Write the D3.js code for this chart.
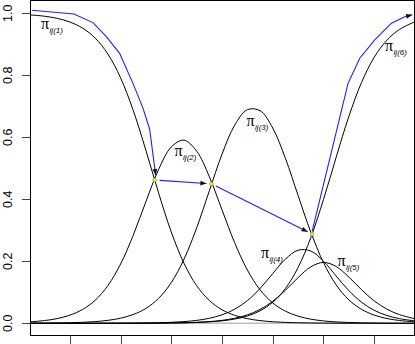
<!DOCTYPE html>
<html>
<head>
<meta charset="utf-8">
<script src="https://cdn.jsdelivr.net/npm/d3@7"></script>
<style>
  html, body { margin: 0; padding: 0; background: #fff; }
  svg { display: block; }
</style>
</head>
<body>
<div id="chart"></div>
<script>
/** Data. */
const XS = [-3.8, -3.5, -3.25, -3, -2.75, -2.5, -2.25, -2, -1.75, -1.5, -1.25, -1, -0.75, -0.5, -0.25,
    0, 0.25, 0.5, 0.75, 1, 1.25, 1.5, 1.75, 2, 2.25, 2.5, 2.75, 3, 3.25, 3.5, 3.8];

const PI1 = [0.9951, 0.9906, 0.9837, 0.9720, 0.9523, 0.9200, 0.8687, 0.7920, 0.6867, 0.5577, 0.4206, 0.2946, 0.1938, 0.1215, 0.0737,
    0.0438, 0.0257, 0.0150, 0.0087, 0.0050, 0.0029, 0.0017, 0.0010, 0.0006, 0.0003, 0.0002, 0.0001, 0.0001, 0, 0, 0];
const PI2 = [0.0046, 0.0088, 0.0152, 0.0261, 0.0444, 0.0743, 0.1215, 0.1910, 0.2841, 0.3925, 0.4961, 0.5689, 0.5908, 0.5555, 0.4731,
    0.3660, 0.2598, 0.1720, 0.1082, 0.0658, 0.0391, 0.0230, 0.0134, 0.0077, 0.0045, 0.0026, 0.0015, 0.0008, 0.0005, 0.0003, 0.0002];
const PI3 = [0.0003, 0.0006, 0.0011, 0.0018, 0.0032, 0.0055, 0.0095, 0.0164, 0.0283, 0.0480, 0.0804, 0.1313, 0.2065, 0.3077, 0.4270,
    0.5454, 0.6392, 0.6891, 0.6859, 0.6300, 0.5321, 0.4122, 0.2943, 0.1961, 0.1240, 0.0757, 0.0451, 0.0265, 0.0154, 0.0090, 0.0046];
const PI4 = [0, 0, 0, 0, 0.0001, 0.0001, 0.0002, 0.0004, 0.0006, 0.0011, 0.0018, 0.0032, 0.0055, 0.0094, 0.0162,
    0.0274, 0.0454, 0.0732, 0.1123, 0.1604, 0.2071, 0.2358, 0.2332, 0.2005, 0.1526, 0.1055, 0.0681, 0.0420, 0.0252, 0.0149, 0.0078];
const PI5 = [0, 0, 0, 0, 0, 0, 0.0001, 0.0001, 0.0002, 0.0004, 0.0006, 0.0011, 0.0018, 0.0032, 0.0055,
    0.0095, 0.0162, 0.0272, 0.0447, 0.0710, 0.1066, 0.1473, 0.1820, 0.1964, 0.1833, 0.1492, 0.1085, 0.0725, 0.0458, 0.0278, 0.0149];
const PI6 = [0, 0, 0, 0, 0, 0, 0.0001, 0.0001, 0.0002, 0.0003, 0.0005, 0.0009, 0.0015, 0.0026, 0.0046,
    0.0079, 0.0137, 0.0235, 0.0402, 0.0678, 0.1122, 0.1801, 0.2762, 0.3987, 0.5353, 0.6669, 0.7767, 0.8580, 0.9130, 0.9481, 0.9725];

const CURVES = [PI1, PI2, PI3, PI4, PI5, PI6];
const LABEL_SUBS = ["ij(1)", "ij(2)", "ij(3)", "ij(4)", "ij(5)", "ij(6)"];

// blue path: leading run, crossing points, trailing run
const BLUE_START_X = [-3.748, -2.919, -2.544, -2.280, -2.018, -1.755, -1.558, -1.426, -1.308];
const BLUE_START_Y = [1.010, 0.998, 0.970, 0.925, 0.871, 0.774, 0.694, 0.626, 0.478];
const CROSS_X = [-1.327, -0.209, 1.775];
const CROSS_Y = [0.462, 0.450, 0.288];
const BLUE_END_X = [1.779, 2.485, 2.716, 3.012, 3.341, 3.604, 3.748];
const BLUE_END_Y = [0.298, 0.774, 0.855, 0.914, 0.968, 0.989, 0.995];

const X_TICKS = [-3, -2, -1, 0, 1, 2, 3];
const Y_TICKS = [0, 0.2, 0.4, 0.6, 0.8, 1];
const Y_TICK_LABELS = ["0.0", "0.2", "0.4", "0.6", "0.8", "1.0"];

/** Layout. */
const WIDTH = 415;
const HEIGHT = 344;
const BOX = {left: 30.5, right: 414.5, top: 0.5, bottom: 335.5};

// label anchors in pixels (left of pi, baseline)
const LABEL_POS = [[41, 28.5], [174.5, 156], [246.5, 125.5], [261, 257.5], [337.5, 265.5], [385, 51]];

const x = d3.scaleLinear()
    .domain([-3.785, 3.785])
    .range([30, 414]);
const y = d3.scaleLinear()
    .domain([-0.04, 1.04])
    .range([335.7, 0.9]);

const svg = d3.select("#chart").append("svg")
    .attr("width", WIDTH)
    .attr("height", HEIGHT);

svg.append("defs").append("clipPath")
    .attr("id", "plotclip")
    .append("rect")
    .attr("x", BOX.left)
    .attr("y", BOX.top)
    .attr("width", BOX.right - BOX.left)
    .attr("height", BOX.bottom - BOX.top);

const plot = svg.append("g").attr("clip-path", "url(#plotclip)");

// gray reference line at zero
plot.append("line")
    .attr("x1", BOX.left).attr("x2", BOX.right)
    .attr("y1", y(0)).attr("y2", y(0))
    .attr("stroke", "#bdbdbd")
    .attr("stroke-width", 1.6);

const curveLine = d3.line()
    .curve(d3.curveCatmullRom.alpha(0.5))
    .x((d, i) => x(XS[i]))
    .y((d) => y(d));

plot.selectAll("path.prob")
    .data(CURVES)
    .join("path")
    .attr("class", "prob")
    .attr("d", curveLine)
    .attr("fill", "none")
    .attr("stroke", "#000")
    .attr("stroke-width", 1);

// blue mode path
const polyLine = d3.line()
    .x((d) => d[0])
    .y((d) => d[1]);

function arrowHead(g, p0, p1) {
    const ang = Math.atan2(p1[1] - p0[1], p1[0] - p0[0]);
    const len = 6, half = 2.4;
    const bx = p1[0] - len * Math.cos(ang), by = p1[1] - len * Math.sin(ang);
    const pts = [
        p1,
        [bx + half * Math.sin(ang), by - half * Math.cos(ang)],
        [bx - half * Math.sin(ang), by + half * Math.cos(ang)]
    ];
    g.append("path")
        .attr("d", "M" + pts.map(p => p.join(",")).join("L") + "Z")
        .attr("fill", "#111")
        .attr("stroke", "none");
}

function drawArrowPath(pts) {
    plot.append("path")
        .attr("d", polyLine(pts))
        .attr("fill", "none")
        .attr("stroke", "#1f1fff")
        .attr("stroke-width", 1.1);
    arrowHead(plot, pts[pts.length - 2], pts[pts.length - 1]);
}

const startPts = BLUE_START_X.map((v, i) => [x(v), y(BLUE_START_Y[i])]);
drawArrowPath(startPts);

const crossPts = CROSS_X.map((v, i) => [x(v), y(CROSS_Y[i])]);
for (let i = 0; i < crossPts.length - 1; i++) {
    const a = crossPts[i], b = crossPts[i + 1];
    const d = Math.hypot(b[0] - a[0], b[1] - a[1]);
    const ux = (b[0] - a[0]) / d, uy = (b[1] - a[1]) / d;
    const gap = 5;
    drawArrowPath([[a[0] + ux * gap, a[1] + uy * gap], [b[0] - ux * gap, b[1] - uy * gap]]);
}

const endPts = BLUE_END_X.map((v, i) => [x(v), y(BLUE_END_Y[i])]);
drawArrowPath(endPts);

plot.selectAll("circle.cross")
    .data(crossPts)
    .join("circle")
    .attr("class", "cross")
    .attr("cx", d => d[0])
    .attr("cy", d => d[1])
    .attr("r", 1.9)
    .attr("fill", "#f0f000")
    .attr("stroke", "#777")
    .attr("stroke-width", 0.5);

// curve labels
LABEL_SUBS.forEach((sub, i) => {
    const [lx, ly] = LABEL_POS[i];
    const t = svg.append("text")
        .attr("x", lx)
        .attr("y", ly)
        .attr("fill", "#000");
    t.append("tspan")
        .attr("font-family", "'Liberation Serif', 'Times New Roman', serif")
        .attr("font-size", 16)
        .text("π");
    t.append("tspan")
        .attr("font-family", "'Liberation Sans', Arial, sans-serif")
        .attr("font-style", "italic")
        .attr("font-size", 8)
        .attr("dx", 0.5)
        .attr("dy", 4)
        .text(sub);
});

// box
svg.append("rect")
    .attr("x", BOX.left)
    .attr("y", BOX.top)
    .attr("width", BOX.right - BOX.left)
    .attr("height", BOX.bottom - BOX.top)
    .attr("fill", "none")
    .attr("stroke", "#000")
    .attr("stroke-width", 1);

// y axis
const yAxis = svg.append("g");
yAxis.selectAll("line")
    .data(Y_TICKS)
    .join("line")
    .attr("x1", 22).attr("x2", BOX.left)
    .attr("y1", d => Math.round(y(d)) + 0.5)
    .attr("y2", d => Math.round(y(d)) + 0.5)
    .attr("stroke", "#444");
yAxis.selectAll("text")
    .data(Y_TICKS)
    .join("text")
    .attr("transform", d => `translate(11.5,${y(d)}) rotate(-90)`)
    .attr("text-anchor", "middle")
    .attr("font-family", "'Liberation Sans', Arial, sans-serif")
    .attr("font-size", 12.5)
    .attr("fill", "#000")
    .text((d, i) => Y_TICK_LABELS[i]);

// x axis ticks (labels fall below the picture)
svg.append("g").selectAll("line")
    .data(X_TICKS)
    .join("line")
    .attr("x1", d => Math.round(x(d)) + 0.5)
    .attr("x2", d => Math.round(x(d)) + 0.5)
    .attr("y1", BOX.bottom)
    .attr("y2", BOX.bottom + 9)
    .attr("stroke", "#444");
</script>
</body>
</html>
